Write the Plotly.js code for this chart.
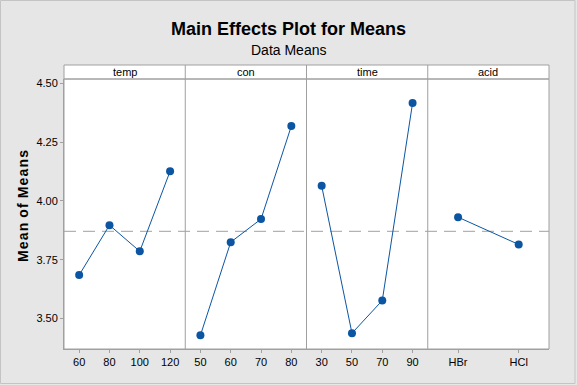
<!DOCTYPE html>
<html><head><meta charset="utf-8">
<script src="https://cdn.plot.ly/plotly-3.0.1.min.js"></script>
<style>html,body{margin:0;padding:0;background:#e6e6e6;}#c{width:577px;height:385px;}</style>
</head><body><div id="c"></div>
<script>
const factors = ["temp", "con", "time", "acid"];
const tempLevels = ["60", "80", "100", "120"];
const tempMeans = [3.685, 3.897, 3.786, 4.126];
const conLevels = ["50", "60", "70", "80"];
const conMeans = [3.429, 3.825, 3.923, 4.318];
const timeLevels = ["30", "50", "70", "90"];
const timeMeans = [4.064, 3.438, 3.577, 4.416];
const acidLevels = ["HBr", "HCl"];
const acidMeans = [3.931, 3.815];
const grandMean = 3.871;
const yTicks = [3.50, 3.75, 4.00, 4.25, 4.50];

const W = 577, H = 385, L = 64, R = 549, T = 79, B = 349, stripTop = 65;
const pw = R - L, ph = B - T;
const px = v => (v - L) / pw;
const py = v => (B - v) / ph;

const levels = [tempLevels, conLevels, timeLevels, acidLevels];
const means = [tempMeans, conMeans, timeMeans, acidMeans];
const blue = '#0b55a3';
const gray = '#a0a0a0';

const yTitle = 'Mean of Means'.split(' ').map(w => w.split('').join('\u200A')).join(' \u200A');

const data = levels.map((lv, i) => ({
  x: lv, y: means[i], type: 'scatter', mode: 'lines+markers',
  xaxis: i === 0 ? 'x' : 'x' + (i + 1), yaxis: 'y',
  line: {color: blue, width: 1},
  marker: {color: blue, size: 8},
  hoverinfo: 'skip', showlegend: false
}));

const layout = {
  width: W, height: H,
  paper_bgcolor: '#e6e6e6', plot_bgcolor: '#ffffff',
  margin: {l: L, r: W - R, t: T, b: H - B, pad: 0},
  font: {family: 'Arial, Liberation Sans, sans-serif', size: 11, color: '#000'},
  title: {text: '<b>Main Effects Plot for Means</b>', font: {size: 18, color: '#000'},
    x: 0.5, xref: 'container', xanchor: 'center', y: 1 - 29 / H, yref: 'container', yanchor: 'middle'},
  yaxis: {range: [3.371, 4.518], tickvals: yTicks, ticktext: yTicks.map(v => v.toFixed(2)),
    showgrid: false, zeroline: false, showline: true, linecolor: gray, linewidth: 1,
    ticks: 'outside', ticklen: 3, tickcolor: gray, tickfont: {size: 11}},
  shapes: [],
  annotations: [
    {text: 'Data Means', xref: 'paper', yref: 'paper', x: px(288.5), y: py(50), showarrow: false,
     font: {size: 14, color: '#000'}, xanchor: 'center', yanchor: 'middle'},
    {text: '<b>' + yTitle + '</b>', xref: 'paper', yref: 'paper', x: px(23), y: py(206), showarrow: false,
     textangle: -90, font: {size: 14, color: '#000'}, xanchor: 'center', yanchor: 'middle'}
  ]
};

levels.forEach((lv, i) => {
  const key = i === 0 ? 'xaxis' : 'xaxis' + (i + 1);
  layout[key] = {
    domain: [i / 4, (i + 1) / 4], type: 'category', range: [-0.5, lv.length - 0.5],
    anchor: 'y', showgrid: false, zeroline: false, showline: true, linecolor: gray, linewidth: 1,
    ticks: 'outside', ticklen: 3, tickcolor: gray, tickfont: {size: 11}, fixedrange: true
  };
  layout.annotations.push({text: factors[i], xref: 'paper', yref: 'paper',
    x: (i + 0.5) / 4, y: py((stripTop + T) / 2), showarrow: false, font: {size: 11, color: '#000'},
    xanchor: 'center', yanchor: 'middle'});
});

const sy1 = py(stripTop);
layout.shapes.push(
  {type: 'rect', xref: 'paper', yref: 'paper', x0: 0, x1: 1, y0: 1, y1: sy1,
   fillcolor: '#ffffff', line: {color: gray, width: 1}, layer: 'below'},
  {type: 'rect', xref: 'paper', yref: 'paper', x0: 0, x1: 1, y0: 0, y1: 1,
   line: {color: gray, width: 1}},
  {type: 'line', xref: 'paper', yref: 'y', x0: 0, x1: 1, y0: grandMean, y1: grandMean,
   line: {color: gray, width: 1, dash: '12px,7px'}, layer: 'below'},
  {type: 'rect', xref: 'paper', yref: 'paper', x0: px(0.5), x1: px(575), y0: py(0.5), y1: py(383.5),
   line: {color: '#c4c4c4', width: 1}}
);
[0.25, 0.5, 0.75].forEach(d => layout.shapes.push({type: 'line', xref: 'paper', yref: 'paper',
  x0: d, x1: d, y0: 0, y1: sy1, line: {color: gray, width: 1}}));

Plotly.newPlot('c', data, layout, {staticPlot: true, displayModeBar: false});
</script></body></html>
